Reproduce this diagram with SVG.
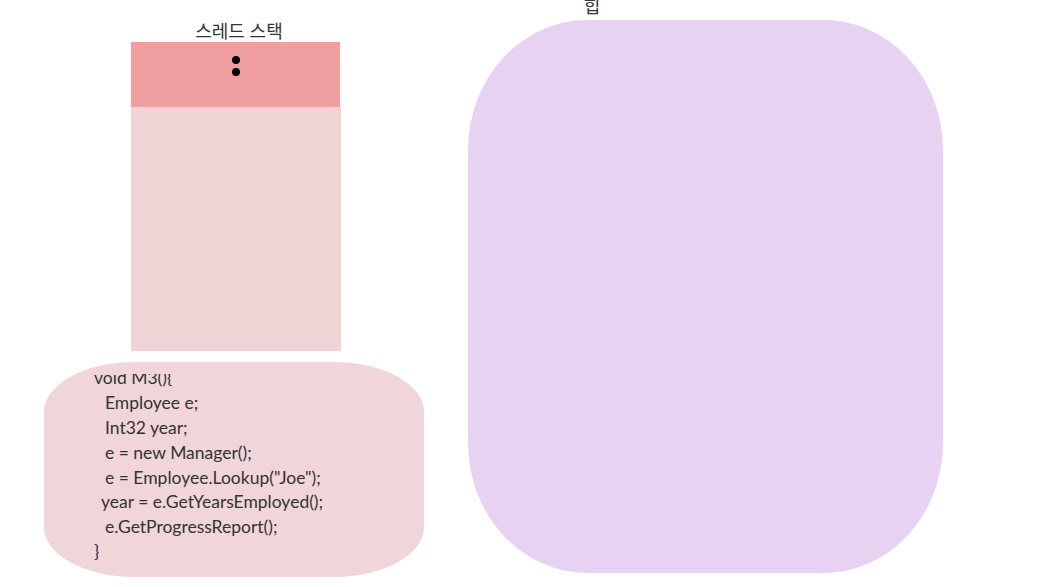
<svg xmlns="http://www.w3.org/2000/svg" width="1039" height="587" viewBox="0 0 1039 587">
<style>
.t{font-family:"Noto Sans","Noto Sans CJK KR",sans-serif;font-size:18px;fill:#333}
.c{font-family:Lato,"Noto Sans",sans-serif;font-size:17.5px;fill:#333}
</style>
<defs>
<clipPath id="cc"><rect x="44" y="374" width="380" height="203"/></clipPath>
</defs>
<rect width="1039" height="587" fill="#fff"/>
<g id="stack">
<rect x="131" y="107" width="210" height="244" fill="#efd4d5"/>
<rect x="131" y="42" width="209" height="65" fill="#f09fa0"/>
<circle cx="236" cy="60" r="4" fill="#000"/>
<circle cx="236" cy="72" r="4" fill="#000"/>
<text class="t" x="239" y="38" text-anchor="middle">스레드 스택</text>
</g>
<g id="heap">
<rect x="468" y="20" width="475" height="553" rx="119" ry="130" fill="#e7d3f1"/>
<text class="t" x="592" y="13" text-anchor="middle">힙</text>
</g>
<g id="code">
<rect x="44" y="362" width="380" height="215" rx="90" ry="50" fill="#f0d6d8"/>
<g clip-path="url(#cc)">
<text class="c" x="94" y="384">void M3(){</text>
<text class="c" x="105" y="409">Employee e;</text>
<text class="c" x="105" y="434">Int32 year;</text>
<text class="c" x="105" y="459">e = new Manager();</text>
<text class="c" x="105" y="484">e = Employee.Lookup("Joe");</text>
<text class="c" x="101" y="508">year = e.GetYearsEmployed();</text>
<text class="c" x="105" y="533">e.GetProgressReport();</text>
<text class="c" x="94" y="558">}</text>
</g>
</g>
<g id="connectors"></g>
</svg>
